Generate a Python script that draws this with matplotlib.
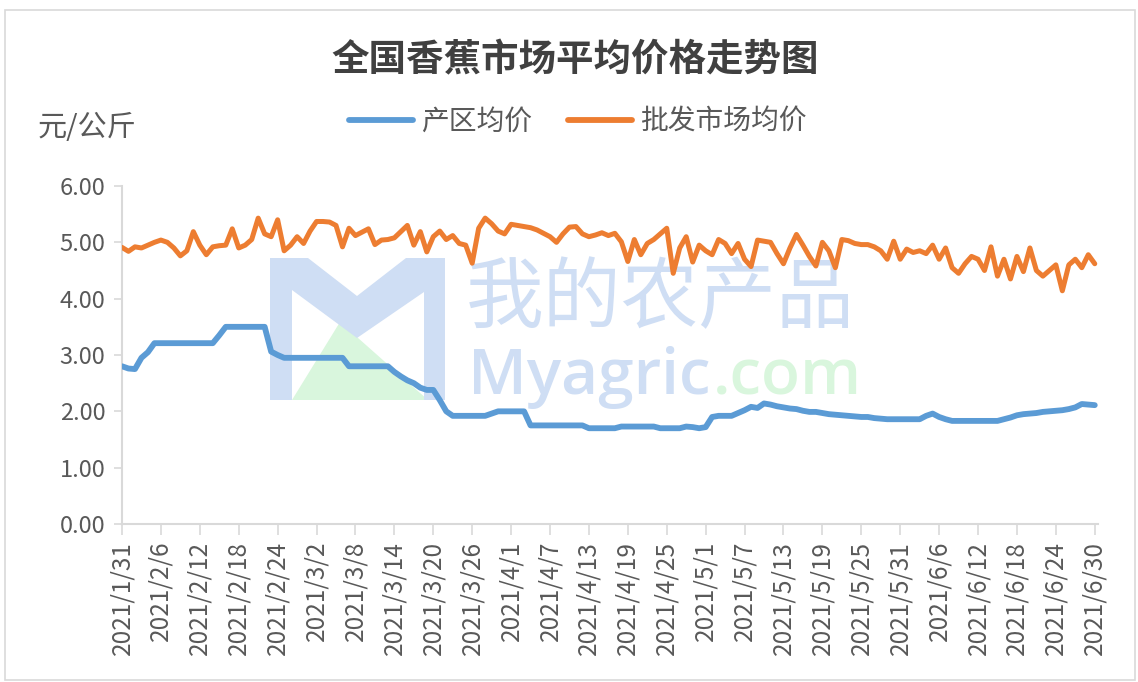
import numpy as np
import pandas as pd
import matplotlib
matplotlib.use("Agg")
import matplotlib.pyplot as plt
from matplotlib.patches import Polygon, Rectangle
from matplotlib.lines import Line2D
from matplotlib.transforms import offset_copy

plt.rcParams['font.family'] = ['Noto Sans CJK SC', 'DejaVu Sans']

# 数据：2021/1/31 - 2021/6/30 每日价格（元/公斤）
dates = pd.date_range('2021-01-31', '2021-06-30', freq='D')

origin_price = [
    2.80, 2.76, 2.75, 2.95, 3.05, 3.21, 3.21, 3.21, 3.21, 3.21,
    3.21, 3.21, 3.21, 3.21, 3.21, 3.35, 3.50, 3.50, 3.50, 3.50,
    3.50, 3.50, 3.50, 3.06, 3.00, 2.95, 2.95, 2.95, 2.95, 2.95,
    2.95, 2.95, 2.95, 2.95, 2.95, 2.80, 2.80, 2.80, 2.80, 2.80,
    2.80, 2.80, 2.70, 2.62, 2.55, 2.50, 2.42, 2.38, 2.38, 2.20,
    2.00, 1.92, 1.92, 1.92, 1.92, 1.92, 1.92, 1.96, 2.00, 2.00,
    2.00, 2.00, 2.00, 1.75, 1.75, 1.75, 1.75, 1.75, 1.75, 1.75,
    1.75, 1.75, 1.70, 1.70, 1.70, 1.70, 1.70, 1.73, 1.73, 1.73,
    1.73, 1.73, 1.73, 1.70, 1.70, 1.70, 1.70, 1.73, 1.72, 1.70,
    1.72, 1.90, 1.92, 1.92, 1.92, 1.97, 2.02, 2.08, 2.06, 2.14,
    2.12, 2.09, 2.07, 2.05, 2.04, 2.01, 1.99, 1.99, 1.97, 1.95,
    1.94, 1.93, 1.92, 1.91, 1.90, 1.90, 1.88, 1.87, 1.86, 1.86,
    1.86, 1.86, 1.86, 1.86, 1.92, 1.96, 1.90, 1.86, 1.83, 1.83,
    1.83, 1.83, 1.83, 1.83, 1.83, 1.83, 1.86, 1.89, 1.93, 1.95,
    1.96, 1.97, 1.99, 2.00, 2.01, 2.02, 2.04, 2.07, 2.13, 2.12,
    2.11,
]

wholesale_price = [
    4.91, 4.84, 4.92, 4.90, 4.95, 5.00, 5.04, 5.00, 4.90, 4.76,
    4.85, 5.19, 4.95, 4.78, 4.92, 4.94, 4.95, 5.24, 4.90, 4.95,
    5.05, 5.43, 5.15, 5.10, 5.40, 4.85, 4.95, 5.10, 4.98, 5.20,
    5.37, 5.37, 5.36, 5.30, 4.92, 5.25, 5.12, 5.18, 5.24, 4.96,
    5.04, 5.05, 5.08, 5.19, 5.30, 4.95, 5.19, 4.83, 5.10, 5.20,
    5.05, 5.12, 4.98, 4.95, 4.63, 5.25, 5.43, 5.33, 5.20, 5.15,
    5.32, 5.30, 5.28, 5.26, 5.22, 5.16, 5.10, 5.00, 5.15, 5.27,
    5.28, 5.15, 5.10, 5.13, 5.17, 5.12, 5.16, 5.01, 4.66, 5.05,
    4.78, 4.98, 5.05, 5.15, 5.25, 4.45, 4.90, 5.10, 4.65, 4.95,
    4.85, 4.78, 5.05, 4.98, 4.80, 4.98, 4.70, 4.57, 5.04, 5.02,
    5.00, 4.80, 4.62, 4.90, 5.14, 4.95, 4.75, 4.58, 5.00, 4.85,
    4.55, 5.05, 5.03, 4.98, 4.96, 4.96, 4.92, 4.85, 4.70, 5.02,
    4.70, 4.88, 4.82, 4.85, 4.80, 4.95, 4.70, 4.90, 4.55, 4.45,
    4.62, 4.75, 4.70, 4.50, 4.92, 4.40, 4.70, 4.35, 4.75, 4.48,
    4.90, 4.50, 4.40, 4.50, 4.60, 4.14, 4.60, 4.70, 4.55, 4.78,
    4.62,
]

series_names = ['产区均价', '批发市场均价']
series_colors = ['#5B9BD5', '#ED7D31']
title = '全国香蕉市场平均价格走势图'
unit_label = '元/公斤'
y_ticks = [0, 1, 2, 3, 4, 5, 6]
tick_step = 6

W, H = 1138, 682
fig = plt.figure(figsize=(W / 100, H / 100), dpi=100)


def px(x, y):
    """像素坐标(左上原点)转换为图形坐标。"""
    return (x / W, 1 - y / H)


# 外边框
fig.patches.append(Rectangle(px(5, 680), 1130 / W, 670 / H, transform=fig.transFigure,
                             fill=False, edgecolor='#d9d9d9', linewidth=1.2))

# 水印（画在坐标轴下面）
wm_blue = '#cfdef4'
wm_green = '#d9f6dd'
m_logo = [(270, 400), (270, 258), (308, 258), (357, 296), (406, 258), (445, 258),
          (445, 400), (424, 400), (424, 292), (357, 338), (292, 290), (292, 400)]
tri = [(292, 400), (340, 322), (428, 400)]
fig.patches.append(Polygon([px(*p) for p in tri], closed=True, transform=fig.transFigure,
                           facecolor=wm_green, edgecolor='none', zorder=0))
fig.patches.append(Polygon([px(*p) for p in m_logo], closed=True, transform=fig.transFigure,
                           facecolor=wm_blue, edgecolor='none', zorder=0))
fig.text(*px(466, 300), '我的农产品', fontsize=56, color=wm_blue, va='center', ha='left', zorder=0)
t1 = fig.text(*px(468, 378), 'Myagric', fontsize=46, color=wm_blue, va='center', ha='left',
              family=['Open Sans', 'DejaVu Sans'], fontweight='semibold', zorder=0)
fig.canvas.draw()
bb = t1.get_window_extent()
fig.text(bb.x1 / W + 2 / W, 1 - 378 / H, '.com', fontsize=46, color=wm_green, va='center',
         ha='left', family=['Open Sans', 'DejaVu Sans'], fontweight='semibold', zorder=0)

ax = fig.add_axes([122 / W, (H - 524) / H, (1098 - 122) / W, (524 - 186) / H])
ax.set_zorder(2)
ax.patch.set_alpha(0)

x = np.arange(len(dates))
ax.plot(x, origin_price, color=series_colors[0], linewidth=4.2, solid_capstyle='round',
        solid_joinstyle='round', zorder=3)
ax.plot(x, wholesale_price, color=series_colors[1], linewidth=3.6, solid_capstyle='round',
        solid_joinstyle='round', zorder=3)

ax.set_xlim(0, len(dates) - 0.5)
ax.set_ylim(0, 6)
ax.set_yticks(y_ticks)
ax.set_yticklabels([f'{v:.2f}' for v in y_ticks], fontsize=17, color='#595959')

tick_idx = x[::tick_step]
ax.set_xticks(tick_idx)
ax.set_xticklabels([f'{d.year}/{d.month}/{d.day}' for d in dates[::tick_step]],
                   rotation=90, fontsize=17.5, color='#595959')

for side in ['top', 'right']:
    ax.spines[side].set_visible(False)
for side in ['left', 'bottom']:
    ax.spines[side].set_color('#d9d9d9')
    ax.spines[side].set_linewidth(1.5)
ax.tick_params(axis='y', length=6, width=1.2, color='#d9d9d9', pad=6)
ax.tick_params(axis='x', length=8, width=1.2, color='#d9d9d9', pad=4)

fig.text(*px(575, 60), title, fontsize=27, color='#404040', ha='center', va='center',
         fontweight='bold')
fig.text(*px(38, 128), unit_label, fontsize=21, color='#595959', ha='left', va='center')

handles = [Line2D([0], [0], color=c, linewidth=4.2, solid_capstyle='round') for c in series_colors]
fig.legend(handles, series_names, loc='center', bbox_to_anchor=px(578, 122), ncol=2,
           frameon=False, fontsize=20, labelcolor='#595959', handlelength=2.3,
           handletextpad=0.3, columnspacing=1.3)

fig.savefig('out.png', dpi=100)
